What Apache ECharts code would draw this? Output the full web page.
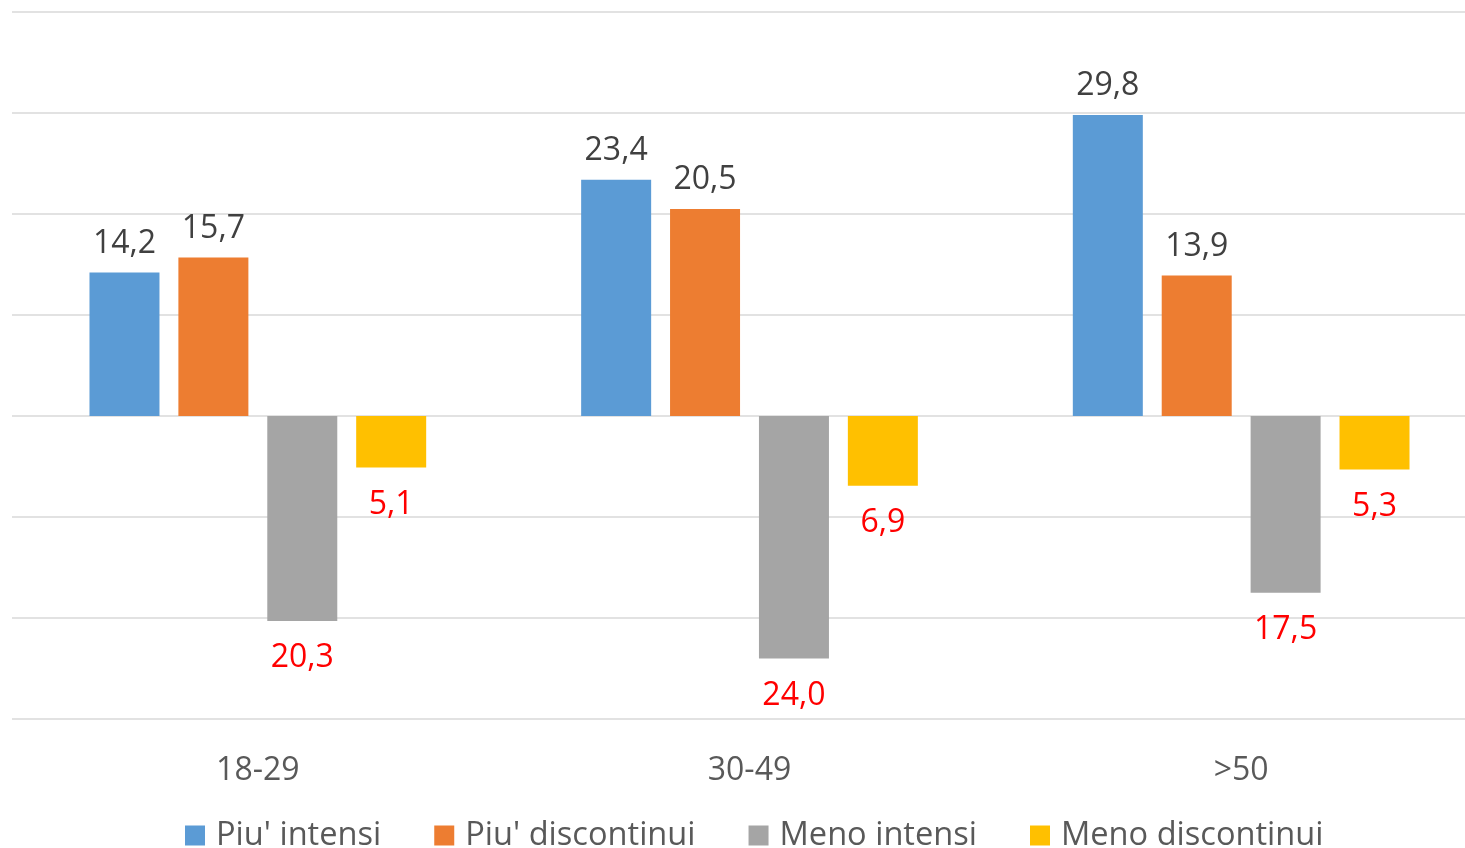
<!DOCTYPE html>
<html>
<head>
<meta charset="utf-8">
<script src="https://cdn.jsdelivr.net/npm/echarts@6/dist/echarts.min.js"></script>
<style>
  html, body { margin: 0; padding: 0; background: #fff; }
  #chart { width: 1465px; height: 848px; }
</style>
</head>
<body>
<div id="chart"></div>
<script>
const categories = ['18-29', '30-49', '>50']
const seriesNames = ["Piu' intensi", "Piu' discontinui", 'Meno intensi', 'Meno discontinui']
const piuIntensi = [14.2, 23.4, 29.8]
const piuDiscontinui = [15.7, 20.5, 13.9]
const menoIntensi = [-20.3, -24.0, -17.5]
const menoDiscontinui = [-5.1, -6.9, -5.3]

const colors = ['#5b9bd5', '#ed7d31', '#a5a5a5', '#ffc000']
const font = '"Open Sans", "Noto Sans", sans-serif'

// etichette con virgola decimale
const fmt = p => Math.abs(p.value).toFixed(1).replace('.', ',')

function barSeries(i, data, negative) {
  return {
    name: seriesNames[i],
    type: 'bar',
    data: data,
    barWidth: 70,
    barGap: '27%',
    itemStyle: { color: colors[i] },
    label: {
      show: true,
      position: negative ? 'bottom' : 'top',
      distance: negative ? 21 : 13,
      formatter: fmt,
      color: negative ? '#ff0000' : '#404040',
      fontFamily: font,
      fontSize: 32
    }
  }
}

const chart = echarts.init(document.getElementById('chart'))
chart.setOption({
  animation: false,
  grid: { left: 12, width: 1475, top: 12, height: 707, containLabel: false, outerBoundsMode: 'none' },
  legend: {
    data: seriesNames,
    left: 185,
    top: 819,
    padding: 0,
    itemWidth: 20,
    itemHeight: 20,
    itemGap: 53,
    icon: 'rect',
    textStyle: { color: '#595959', fontFamily: font, fontSize: 32.6, padding: [0, 0, 0, 6] }
  },
  xAxis: {
    type: 'category',
    data: categories,
    axisLine: { show: false },
    axisTick: { show: false },
    axisLabel: { color: '#595959', fontFamily: font, fontSize: 32, margin: 36 }
  },
  yAxis: {
    type: 'value',
    min: -30,
    max: 40,
    interval: 10,
    axisLabel: { show: false },
    axisLine: { show: false },
    axisTick: { show: false },
    splitLine: { lineStyle: { color: '#d9d9d9', width: 1.5 } }
  },
  series: [
    barSeries(0, piuIntensi, false),
    barSeries(1, piuDiscontinui, false),
    barSeries(2, menoIntensi, true),
    barSeries(3, menoDiscontinui, true)
  ]
})
</script>
</body>
</html>
